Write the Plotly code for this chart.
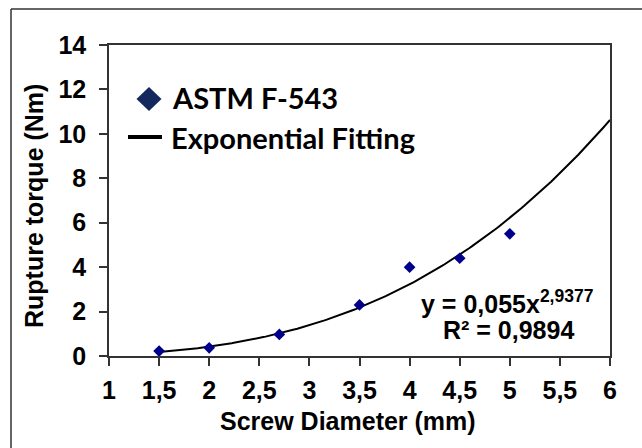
import numpy as np
import plotly.graph_objects as go

# Measured rupture torque per screw diameter
diameter_mm = [1.5, 2.0, 2.7, 3.5, 4.0, 4.5, 5.0]
torque_nm = [0.22, 0.37, 0.97, 2.30, 4.00, 4.40, 5.50]

# Power-law fit y = a * x^b and its coefficient of determination
fit_coef = 0.055
fit_exp = 2.9377
fit_r2 = 0.9894

x_tick_vals = [1, 1.5, 2, 2.5, 3, 3.5, 4, 4.5, 5, 5.5, 6]
x_tick_text = ["1", "1,5", "2", "2,5", "3", "3,5", "4", "4,5", "5", "5,5", "6"]
y_tick_vals = [0, 2, 4, 6, 8, 10, 12, 14]
y_tick_text = ["0", "2", "4", "6", "8", "10", "12", "14"]

W, H = 642, 448
ML, MR, MT, MB = 109, 32, 45, 92
PW, PH = W - ML - MR, H - MT - MB


def px(x):
    return (x - ML) / PW


def py(y):
    return (H - MB - y) / PH


def comma(v, nd):
    return f"{v:.{nd}f}".replace(".", ",")


AXIS_FONT = dict(family="Liberation Sans, Arial", size=25, color="black", weight="bold")
LEG_FONT = dict(family="Lato", size=29, color="black", weight="bold")

fit_x = np.linspace(1.5, 6.0, 200)
fit_y = fit_coef * fit_x ** fit_exp

fig = go.Figure()
fig.add_trace(go.Scatter(
    x=fit_x, y=fit_y, mode="lines",
    line=dict(color="black", width=2), name="Exponential Fitting",
    showlegend=False, hoverinfo="skip",
))
fig.add_trace(go.Scatter(
    x=diameter_mm, y=torque_nm, mode="markers",
    marker=dict(symbol="diamond", size=9, color="#00008b"),
    name="ASTM F-543", showlegend=False,
))

axis_common = dict(
    showgrid=False, zeroline=False, showline=True, linecolor="#333",
    linewidth=1.5, mirror=True, ticks="outside", ticklen=8,
    tickwidth=1.5, tickcolor="#333", tickfont=AXIS_FONT,
)
fig.update_xaxes(range=[1, 6], tickvals=x_tick_vals, ticktext=x_tick_text,
                 ticklabelstandoff=3, **axis_common)
fig.update_yaxes(range=[0, 14], tickvals=y_tick_vals, ticktext=y_tick_text,
                 ticklabelstandoff=8, **axis_common)

annotations = [
    # axis titles
    dict(x=px(348), y=py(421), text="Screw Diameter (mm)",
         font=dict(AXIS_FONT, size=25)),
    dict(x=px(34), y=py(206), text="Rupture torque (Nm)", textangle=-90,
         font=dict(AXIS_FONT, size=25)),
    # fit equation
    dict(x=px(507), y=py(302),
         text=f"y = {comma(fit_coef, 3)}x<sup>{comma(fit_exp, 4)}</sup>",
         font=dict(AXIS_FONT, size=25)),
    dict(x=px(508), y=py(330), text=f"R² = {comma(fit_r2, 4)}",
         font=dict(AXIS_FONT, size=25)),
    # legend labels
    dict(x=px(170), y=py(98), text="ASTM F-543", xanchor="left", font=LEG_FONT),
    dict(x=px(169), y=py(137), text="Exponential Fitting", xanchor="left", font=LEG_FONT),
]
for a in annotations:
    a.setdefault("xanchor", "center")
    a.update(xref="paper", yref="paper", yanchor="middle", showarrow=False)

cx, cy, hw, hh = 149, 99, 12.5, 12
diamond_path = (f"M {px(cx - hw)},{py(cy)} L {px(cx)},{py(cy - hh)} "
                f"L {px(cx + hw)},{py(cy)} L {px(cx)},{py(cy + hh)} Z")

shapes = [
    # outer frame (left and top edges)
    dict(type="line", xref="paper", yref="paper", x0=px(11), y0=py(9),
         x1=px(660), y1=py(9), line=dict(color="#333", width=1.5)),
    dict(type="line", xref="paper", yref="paper", x0=px(11), y0=py(9),
         x1=px(11), y1=py(470), line=dict(color="#333", width=1.5)),
    # legend glyphs
    dict(type="path", xref="paper", yref="paper", path=diamond_path,
         fillcolor="#13295e", line=dict(width=0)),
    dict(type="line", xref="paper", yref="paper", x0=px(128), y0=py(137),
         x1=px(162), y1=py(137), line=dict(color="black", width=4)),
]

fig.update_layout(
    width=W, height=H, margin=dict(l=ML, r=MR, t=MT, b=MB),
    paper_bgcolor="white", plot_bgcolor="white",
    annotations=annotations, shapes=shapes,
)

fig.write_html("out.html")
